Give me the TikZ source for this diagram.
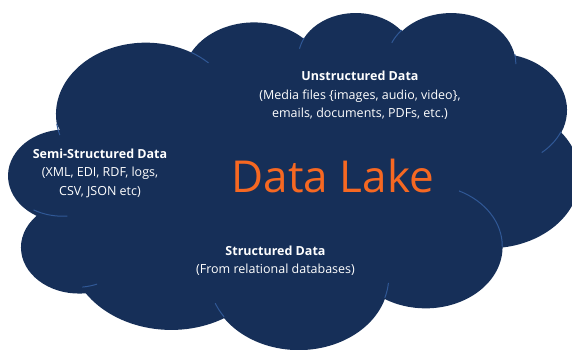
\documentclass[tikz,border=0pt]{standalone}
\usepackage{fontspec}
\setmainfont{Open Sans}
\definecolor{lakeblue}{RGB}{22,47,88}
\definecolor{lakeline}{RGB}{48,88,150}
\definecolor{lakeorange}{RGB}{246,104,34}

\begin{document}
\begin{tikzpicture}[x=1pt,y=1pt,
  lobe/.style={draw=lakeline,line width=1pt},
  datatext/.style={text=white,align=center,inner sep=0pt,
    font=\fontsize{12.5}{18.3}\selectfont}]
  \useasboundingbox (0,0) rectangle (572,350);
  \clip (0,0) rectangle (572,350);

  % cloud outline
  \fill[lakeblue] (56.8,226.0)
    arc[start angle=187.74,end angle=59.64,x radius=89.85,y radius=71.68]
    arc[start angle=152.02,end angle=45.46,x radius=70.96,y radius=56.68]
    arc[start angle=153.49,end angle=37.34,x radius=58.08,y radius=46.37]
    arc[start angle=139.72,end angle=10.22,x radius=64.62,y radius=51.44]
    arc[start angle=74.77,end angle=-23.21,x radius=70.96,y radius=56.73]
    arc[start angle=37.53,end angle=-81.87,x radius=90.14,y radius=71.92]
    arc[start angle=-0.46,end angle=-121.98,x radius=76.97,y radius=61.36]
    arc[start angle=-16.85,end angle=-146.22,x radius=89.84,y radius=71.88]
    arc[start angle=-58.98,end angle=-146.36,x radius=102.72,y radius=82.24]
    arc[start angle=-83.31,end angle=-223.12,x radius=58.01,y radius=46.16]
    arc[start angle=-120.35,end angle=-264.11,x radius=57.81,y radius=46.37]
    -- cycle;

  % inner lobe edges
  \foreach \px/\py/\sa/\ea/\rx/\ry in {
      67.3/133.9/-85.54/-120.35/57.81/46.37,
      97.1/65.9/-68.24/-83.31/58.01/46.16,
      224.1/33.2/-146.22/-158.47/89.84/71.88,
      388.4/67.1/-4.74/-16.85/89.84/71.88,
      459.0/159.1/64.03/-0.46/76.97/61.36,
      561.0/218.3/-23.21/-49.64/70.96/56.73,
      514.8/295.8/10.22/-0.82/64.62/51.44,
      391.8/307.3/156.30/139.72/64.62/51.44,
      299.5/301.3/167.72/153.49/58.08/46.37,
      191.2/297.6/59.64/45.74/89.85/71.68,
      59.8/214.9/-163.20/-172.26/89.85/71.68}
    \draw[lobe] (\px,\py) arc[start angle=\sa,end angle=\ea,x radius=\rx,y radius=\ry];

  \node[datatext] (unstructured) at (360,254.5)
    {{\bfseries Unstructured Data}\\(Media files \{images, audio, video\},\\emails, documents, PDFs, etc.)};
  \node[datatext] (semi) at (100,176.6)
    {{\bfseries Semi-Structured Data}\\(XML, EDI, RDF, logs,\\CSV, JSON etc)};
  \node[datatext] (structured) at (275.5,89.6)
    {{\bfseries Structured Data}\\(From relational databases)};
  \node[anchor=base,inner sep=0pt,text=lakeorange,font=\fontsize{44}{48}\selectfont] (lake) at (333,157) {Data Lake};
\end{tikzpicture}
\end{document}
